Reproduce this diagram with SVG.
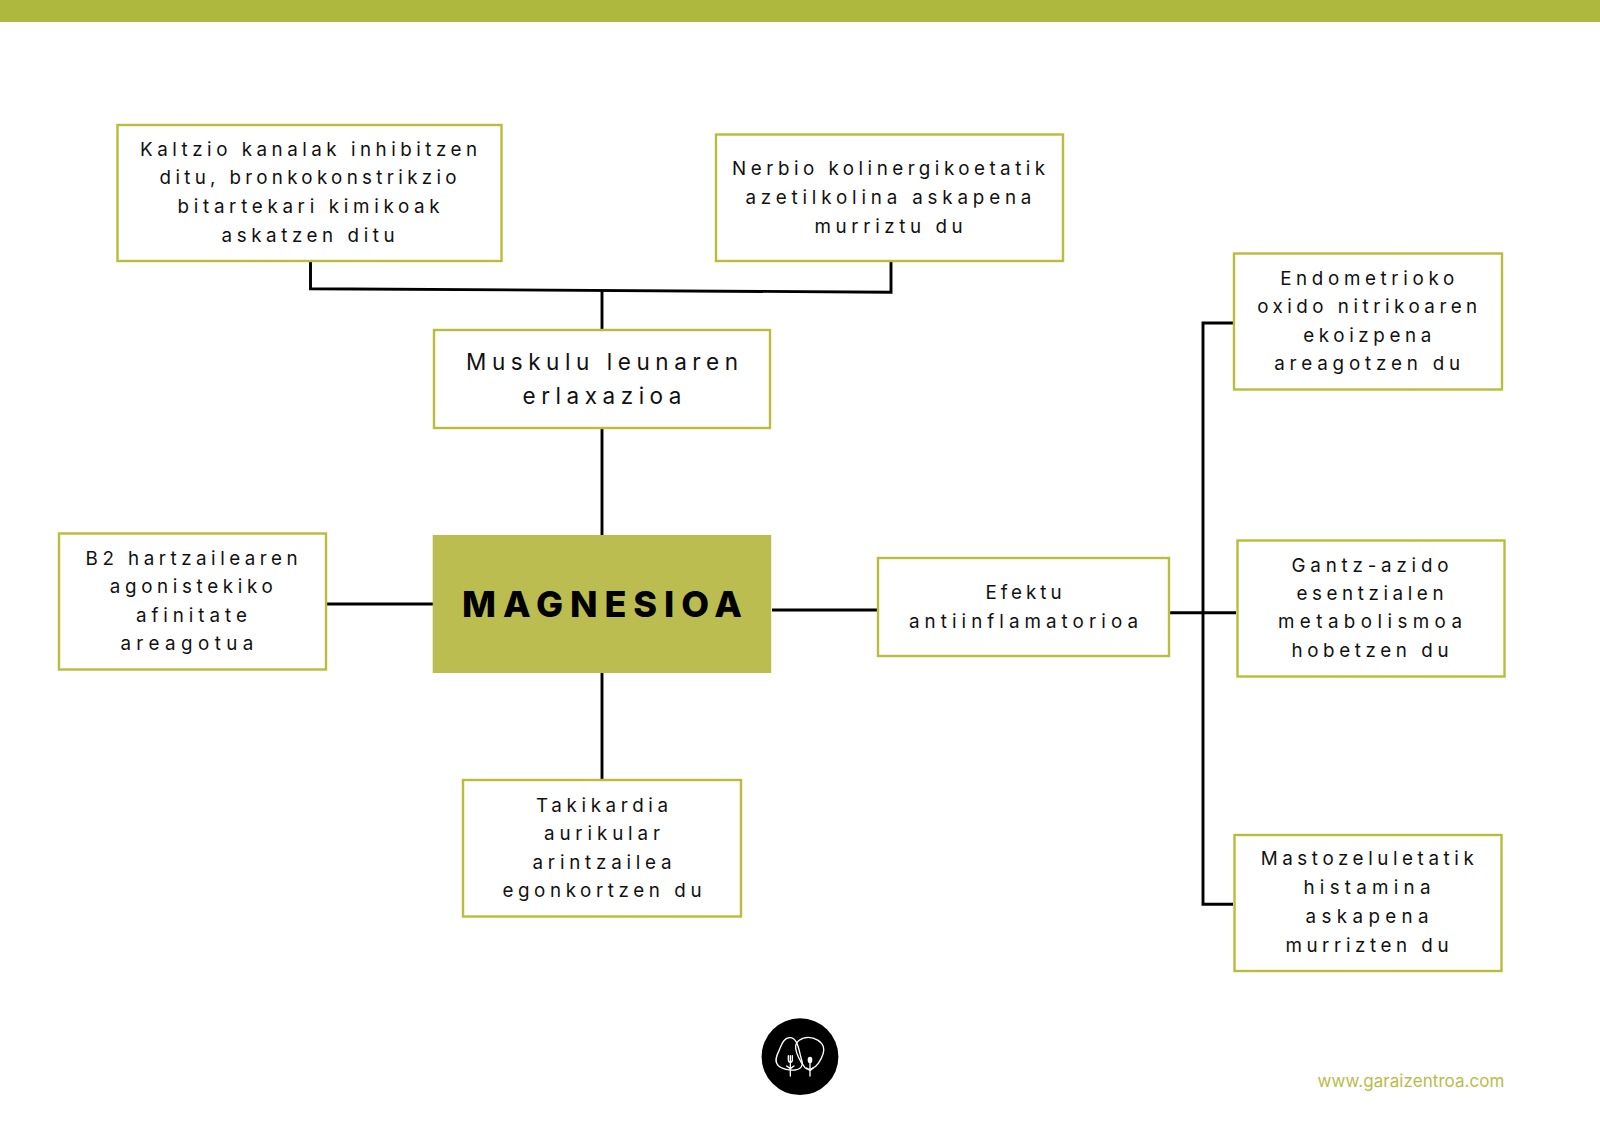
<svg xmlns="http://www.w3.org/2000/svg" width="1600" height="1131" viewBox="0 0 1600 1131">
<style>
.box{fill:#fff;stroke:#b9bc3c;stroke-width:2.4}
.t{font-family:"Inter","Noto Sans","Liberation Sans",sans-serif;font-size:18.8px;fill:#111;text-anchor:middle}
.l{font-size:22.5px}
.c{fill:none;stroke:#000;stroke-width:2.9}
.w{fill:none;stroke:#fff;stroke-width:4;stroke-linecap:round;stroke-linejoin:round}
</style>
<rect id="top-bar" x="0" y="0" width="1600" height="22" fill="#aeb83f"/>
<g id="connectors">
<path class="c" d="M310.5 262V288.7L891 292.2V262"/>
<path class="c" d="M602 290V329M602 429V535M602 673V779M327 604H433M772 610H877M1170 612.7H1236M1233 323H1203V904.3H1233"/>
</g>
<g id="n-kaltzio"><rect class="box" x="117.5" y="125" width="384" height="136"/>
<text class="t" x="308.6" y="155.7" textLength="337">Kaltzio kanalak inhibitzen</text>
<text class="t" x="308.1" y="184" textLength="297">ditu, bronkokonstrikzio</text>
<text class="t" x="308.6" y="212.7" textLength="262">bitartekari kimikoak</text>
<text class="t" x="308.1" y="241.7" textLength="173">askatzen ditu</text></g>
<g id="n-nerbio"><rect class="box" x="716" y="134.5" width="347" height="126.5"/>
<text class="t" x="888.6" y="175" textLength="313">Nerbio kolinergikoetatik</text>
<text class="t" x="888.4" y="204" textLength="286">azetilkolina askapena</text>
<text class="t" x="888.6" y="233" textLength="148">murriztu du</text></g>
<g id="n-muskulu"><rect class="box" x="434" y="330" width="336" height="98"/>
<text class="t l" x="602" y="369.8" textLength="272">Muskulu leunaren</text>
<text class="t l" x="602" y="404" textLength="159">erlaxazioa</text></g>
<g id="n-magnesioa"><rect x="432.7" y="535" width="338.5" height="138" fill="#bbbd50"/>
<text x="602" y="616.5" textLength="280" text-anchor="middle" font-family="Inter,'Liberation Sans',sans-serif" font-weight="800" font-size="36" fill="#000">MAGNESIOA</text></g>
<g id="n-b2"><rect class="box" x="59" y="533.5" width="267" height="136"/>
<text class="t" x="191.6" y="564.5" textLength="212">B2 hartzailearen</text>
<text class="t" x="191.3" y="593" textLength="163">agonistekiko</text>
<text class="t" x="191.4" y="621.5" textLength="111">afinitate</text>
<text class="t" x="186.9" y="650" textLength="133">areagotua</text></g>
<g id="n-efektu"><rect class="box" x="878" y="558" width="291" height="98"/>
<text class="t" x="1023.5" y="599" textLength="76">Efektu</text>
<text class="t" x="1023.5" y="627.6" textLength="229">antiinflamatorioa</text></g>
<g id="n-takikardia"><rect class="box" x="463" y="780" width="278" height="136.5"/>
<text class="t" x="602" y="811.5" textLength="132">Takikardia</text>
<text class="t" x="602" y="840" textLength="116">aurikular</text>
<text class="t" x="602" y="868.5" textLength="139">arintzailea</text>
<text class="t" x="602" y="897" textLength="199">egonkortzen du</text></g>
<g id="n-endometrioko"><rect class="box" x="1234" y="253.5" width="268" height="136"/>
<text class="t" x="1367.2" y="284.7" textLength="174">Endometrioko</text>
<text class="t" x="1367.2" y="313" textLength="220">oxido nitrikoaren</text>
<text class="t" x="1367.2" y="341.7" textLength="128">ekoizpena</text>
<text class="t" x="1367.2" y="370" textLength="186">areagotzen du</text></g>
<g id="n-gantz"><rect class="box" x="1237.5" y="540.5" width="267" height="136"/>
<text class="t" x="1370" y="571.7" textLength="157">Gantz-azido</text>
<text class="t" x="1370" y="600" textLength="147">esentzialen</text>
<text class="t" x="1370" y="628.3" textLength="184">metabolismoa</text>
<text class="t" x="1370" y="656.7" textLength="157">hobetzen du</text></g>
<g id="n-mastozelula"><rect class="box" x="1234.5" y="835" width="267" height="136"/>
<text class="t" x="1367.2" y="865" textLength="213">Mastozeluletatik</text>
<text class="t" x="1367" y="894" textLength="127">histamina</text>
<text class="t" x="1367.1" y="923" textLength="123">askapena</text>
<text class="t" x="1367" y="951.7" textLength="163">murrizten du</text></g>
<g id="logo"><circle cx="800" cy="1056.7" r="38.4" fill="#000"/>
<g transform="translate(740 1000) scale(.3333)">
<path class="w" d="M150 113C130 113 125 135 117 152C108 170 103 185 115 197C125 208 150 212 165 210C185 207 190 195 185 180C178 160 175 113 150 113Z"/>
<path class="w" d="M205 112C185 112 165 125 167 145C170 165 185 190 195 203C205 213 225 205 235 190C245 175 255 155 250 140C245 125 225 112 205 112Z"/>
<path class="w" d="M145 167V180Q145 187 151 187Q157 187 157 180V167M151 167V228M140 198L151 206M162 198L151 206"/>
<ellipse cx="210" cy="180" rx="7" ry="10" fill="#fff"/>
<path class="w" d="M210 185V228M200 204L210 212M220 204L210 212"/>
</g></g>
<text id="url" x="1411" y="1086.5" textLength="187" text-anchor="middle" font-family="Inter,'Liberation Sans',sans-serif" font-size="17" fill="#b7bd48">www.garaizentroa.com</text>
</svg>
